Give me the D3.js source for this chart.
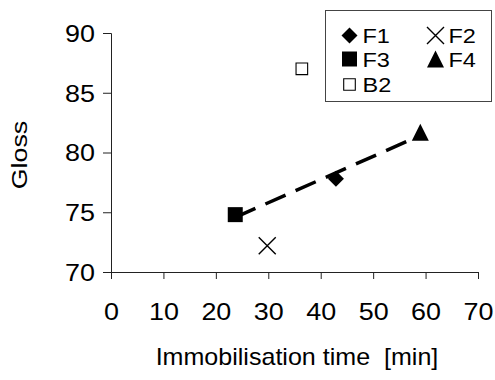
<!DOCTYPE html>
<html>
<head>
<meta charset="utf-8">
<script src="https://cdn.jsdelivr.net/npm/d3@7"></script>
<style>
  body { margin: 0; background: #fff; }
  svg { display: block; font-family: "Liberation Sans", Arial, sans-serif; }
</style>
</head>
<body>
<svg id="chart" width="495" height="380"></svg>
<script>
// data
const seriesNames = ['F1', 'F2', 'F3', 'F4', 'B2'];
const timeValues = [42.9, 29.8, 23.7, 59.0, 36.4];
const glossValues = [77.8, 72.2, 74.8, 81.7, 87.0];
const trendSeries = ['F1', 'F3', 'F4'];
const xTicks = [0, 10, 20, 30, 40, 50, 60, 70];
const yTicks = [70, 75, 80, 85, 90];

const margin = { top: 33, right: 17, bottom: 108, left: 111 };
const width = 495 - margin.left - margin.right,
    height = 380 - margin.top - margin.bottom;

const svg = d3.select('#chart');
const g = svg.append('g').attr('transform', 'translate(' + margin.left + ',' + margin.top + ')');

const x = d3.scaleLinear().domain([0, 70]).range([0, width]);
const y = d3.scaleLinear().domain([70, 90]).range([height, 0]);

const points = seriesNames.map((name, i) => ({ name: name, t: timeValues[i], v: glossValues[i] }));

// the original lettering is wider than Arial, so stretch it sideways
function stretch(sel, k) {
    sel.each(function () {
        const t = d3.select(this);
        const tx = +t.attr('x') || 0, ty = +t.attr('y') || 0;
        t.attr('x', 0).attr('y', 0)
            .attr('transform', 'translate(' + tx + ',' + ty + ') scale(' + k + ',1)');
    });
}

// marker shapes (Excel style)
function markerPath(name) {
    const p = d3.path();
    if (name === 'F1') {            // filled diamond
        const r = 8;
        p.moveTo(0, -r); p.lineTo(r, 0); p.lineTo(0, r); p.lineTo(-r, 0); p.closePath();
    } else if (name === 'F3') {     // filled square
        const r = 7.5;
        p.rect(-r, -r, 2 * r, 2 * r);
    } else if (name === 'F4') {     // filled triangle
        const r = 8.5;
        p.moveTo(0, -r); p.lineTo(r, r); p.lineTo(-r, r); p.closePath();
    } else if (name === 'F2') {     // cross
        const r = 8.5;
        p.moveTo(-r, -r); p.lineTo(r, r); p.moveTo(r, -r); p.lineTo(-r, r);
    } else {                        // open square
        const r = 5.8;
        p.rect(-r, -r, 2 * r, 2 * r);
    }
    return p.toString();
}
function markerFill(name) { return (name === 'F2' || name === 'B2') ? 'none' : '#000'; }
function markerStroke(name) { return (name === 'F2' || name === 'B2') ? '#000' : 'none'; }
function markerWidth(name) { return name === 'F2' ? 1.4 : 1.1; }

// axes
const xAxis = g.append('g')
    .attr('transform', 'translate(0,' + height + ')')
    .call(d3.axisBottom(x).tickValues(xTicks).tickSize(7).tickPadding(25));
const yAxis = g.append('g')
    .call(d3.axisLeft(y).tickValues(yTicks).tickSize(8).tickPadding(8));

[xAxis, yAxis].forEach(a => {
    a.select('.domain').attr('stroke', '#222').attr('stroke-width', 1);
    a.selectAll('.tick line').attr('stroke', '#222');
    a.selectAll('.tick text')
        .attr('fill', '#000')
        .style('font-size', '23px')
        .style('font-family', '"Liberation Sans", Arial, sans-serif');
    stretch(a.selectAll('.tick text'), 1.17);
});
yAxis.selectAll('.tick text').attr('dy', '0.36em');

// linear trendline through F1, F3, F4
const fit = points.filter(d => trendSeries.includes(d.name));
const mx = d3.mean(fit, d => d.t), my = d3.mean(fit, d => d.v);
const slope = d3.sum(fit, d => (d.t - mx) * (d.v - my)) / d3.sum(fit, d => (d.t - mx) * (d.t - mx));
const x0 = d3.min(fit, d => d.t), x1 = d3.max(fit, d => d.t);
const trend = [[x0, my + slope * (x0 - mx)], [x1, my + slope * (x1 - mx)]];

g.append('path')
    .datum(trend)
    .attr('fill', 'none')
    .attr('stroke', '#000')
    .attr('stroke-width', 3.5)
    .attr('stroke-dasharray', '22,11')
    .attr('d', d3.line().x(d => x(d[0])).y(d => y(d[1])));

// points
g.selectAll('.pt')
    .data(points)
    .enter().append('path')
    .attr('class', 'pt')
    .attr('transform', d => 'translate(' + x(d.t) + ',' + y(d.v) + ')')
    .attr('d', d => markerPath(d.name))
    .attr('fill', d => markerFill(d.name))
    .attr('stroke', d => markerStroke(d.name))
    .attr('stroke-width', d => markerWidth(d.name));

// axis titles
svg.append('text')
    .attr('transform', 'translate(297,365) scale(1.09,1)')
    .attr('text-anchor', 'middle')
    .style('font-size', '23px')
    .style('white-space', 'pre')
    .text('Immobilisation time  [min]');

svg.append('text')
    .attr('transform', 'translate(27,155) rotate(-90) scale(1.22,1)')
    .attr('text-anchor', 'middle')
    .style('font-size', '22px')
    .text('Gloss');

// legend
const legend = svg.append('g').attr('transform', 'translate(325.5,10.5)');
legend.append('rect')
    .attr('width', 166)
    .attr('height', 91)
    .attr('fill', '#fff')
    .attr('stroke', '#444')
    .attr('stroke-width', 1);

const legendPos = {
    F1: [24, 25], F2: [110, 25],
    F3: [24, 48.5], F4: [110, 48.5],
    B2: [24, 74]
};
const item = legend.selectAll('.legend')
    .data(seriesNames)
    .enter().append('g')
    .attr('class', 'legend')
    .attr('transform', d => 'translate(' + legendPos[d][0] + ',' + legendPos[d][1] + ')');

item.append('path')
    .attr('d', d => markerPath(d))
    .attr('fill', d => markerFill(d))
    .attr('stroke', d => markerStroke(d))
    .attr('stroke-width', d => markerWidth(d));

item.append('text')
    .attr('transform', 'translate(13,0) scale(1.12,1)')
    .attr('dy', '0.36em')
    .style('font-size', '21px')
    .text(d => d);
</script>
</body>
</html>
